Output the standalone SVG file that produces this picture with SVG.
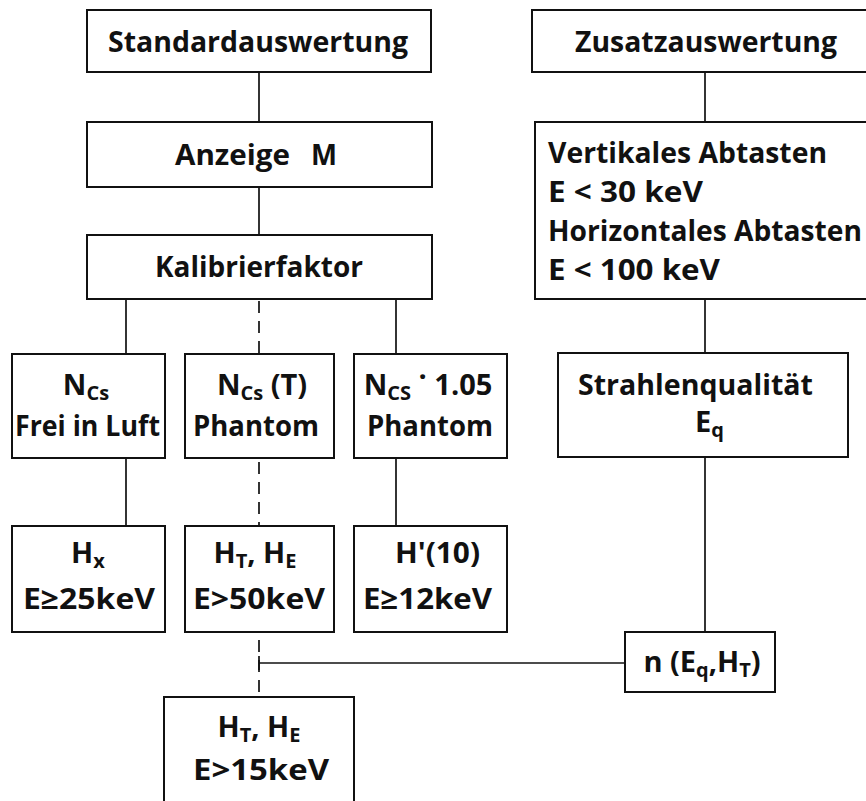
<svg xmlns="http://www.w3.org/2000/svg" width="866" height="801" viewBox="0 0 866 801">
<style>
.box{fill:#fff;stroke:#111;stroke-width:2}
.ln{stroke:#111;stroke-width:1.7;fill:none}
.dash{stroke-dasharray:12 8}
text{font-family:"Open Sans","Noto Sans","DejaVu Sans",sans-serif;font-weight:700;font-size:29px;fill:#111}
.c{text-anchor:middle}
.sub{font-size:20px}
</style>
<rect width="866" height="801" fill="#fff"/>
<g id="connectors">
<line class="ln" x1="259" y1="72" x2="259" y2="122"/>
<line class="ln" x1="259" y1="187" x2="259" y2="235"/>
<line class="ln" x1="126" y1="299" x2="126" y2="354"/>
<line class="ln dash" x1="259" y1="301" x2="259" y2="354"/>
<line class="ln" x1="396" y1="299" x2="396" y2="354"/>
<line class="ln" x1="126" y1="458" x2="126" y2="526"/>
<line class="ln dash" x1="259" y1="462" x2="259" y2="526"/>
<line class="ln" x1="396" y1="458" x2="396" y2="526"/>
<line class="ln dash" x1="259" y1="640" x2="259" y2="697"/>
<line class="ln" x1="259" y1="663" x2="625" y2="663"/>
<line class="ln" x1="259" y1="656" x2="259" y2="670"/>
<line class="ln" x1="705" y1="72" x2="705" y2="122"/>
<line class="ln" x1="705" y1="299" x2="705" y2="353"/>
<line class="ln" x1="705" y1="457" x2="705" y2="632"/>
</g>
<g id="standard">
<rect class="box" x="87" y="10" width="344" height="62"/>
<text x="108" y="52" textLength="300" lengthAdjust="spacingAndGlyphs">Standardauswertung</text>
</g>
<g id="zusatz">
<rect class="box" x="532" y="10" width="360" height="62"/>
<text x="575" y="52" textLength="262" lengthAdjust="spacingAndGlyphs">Zusatzauswertung</text>
</g>
<g id="anzeige">
<rect class="box" x="87" y="122" width="345" height="65"/>
<text x="175" y="165" textLength="115" lengthAdjust="spacingAndGlyphs">Anzeige</text>
<text x="311" y="165" textLength="26" lengthAdjust="spacingAndGlyphs">M</text>
</g>
<g id="kalibrier">
<rect class="box" x="87" y="235" width="345" height="64"/>
<text x="155" y="277" textLength="208" lengthAdjust="spacingAndGlyphs">Kalibrierfaktor</text>
</g>
<g id="abtasten">
<rect class="box" x="535" y="122" width="360" height="177"/>
<text x="548" y="163" textLength="279" lengthAdjust="spacingAndGlyphs">Vertikales Abtasten</text>
<text x="548" y="202" textLength="155" lengthAdjust="spacingAndGlyphs">E &lt; 30 keV</text>
<text x="548" y="241" textLength="314" lengthAdjust="spacingAndGlyphs">Horizontales Abtasten</text>
<text x="548" y="280" textLength="172" lengthAdjust="spacingAndGlyphs">E &lt; 100 keV</text>
</g>
<g id="ncs-luft">
<rect class="box" x="12" y="354" width="153" height="104"/>
<text class="c" x="86" y="395">N<tspan class="sub" dy="5">Cs</tspan></text>
<text x="15" y="436" textLength="145" lengthAdjust="spacingAndGlyphs">Frei in Luft</text>
</g>
<g id="ncs-t">
<rect class="box" x="185" y="354" width="149" height="104"/>
<text class="c" x="262" y="395">N<tspan class="sub" dy="5">Cs</tspan><tspan dy="-5"> (T)</tspan></text>
<text x="193" y="436" textLength="126" lengthAdjust="spacingAndGlyphs">Phantom</text>
</g>
<g id="ncs-105">
<rect class="box" x="354" y="354" width="153" height="104"/>
<text class="c" x="428" y="395">N<tspan class="sub" dy="5">CS</tspan><tspan dy="-13"> ·</tspan><tspan dy="8"> 1.05</tspan></text>
<text x="367" y="436" textLength="126" lengthAdjust="spacingAndGlyphs">Phantom</text>
</g>
<g id="strahlen">
<rect class="box" x="558" y="353" width="290" height="104"/>
<text x="578" y="395" textLength="235" lengthAdjust="spacingAndGlyphs">Strahlenqualität</text>
<text x="695" y="432">E<tspan class="sub" dy="5">q</tspan></text>
</g>
<g id="hx">
<rect class="box" x="12" y="526" width="153" height="106"/>
<text class="c" x="88" y="563">H<tspan class="sub" dy="5">x</tspan></text>
<text x="23" y="609" textLength="132" lengthAdjust="spacingAndGlyphs">E≥25keV</text>
</g>
<g id="hthe50">
<rect class="box" x="185" y="526" width="149" height="106"/>
<text class="c" x="255" y="563">H<tspan class="sub" dy="5">T</tspan><tspan dy="-5">, H</tspan><tspan class="sub" dy="5">E</tspan></text>
<text x="193" y="609" textLength="132" lengthAdjust="spacingAndGlyphs">E&gt;50keV</text>
</g>
<g id="h10">
<rect class="box" x="354" y="526" width="153" height="106"/>
<text x="395" y="563" textLength="85" lengthAdjust="spacingAndGlyphs">H'(10)</text>
<text x="363" y="609" textLength="129" lengthAdjust="spacingAndGlyphs">E≥12keV</text>
</g>
<g id="n-eq">
<rect class="box" x="625" y="632" width="150" height="60"/>
<text class="c" x="702" y="672">n (E<tspan class="sub" dy="5">q</tspan><tspan dy="-5">,H</tspan><tspan class="sub" dy="5">T</tspan><tspan dy="-5">)</tspan></text>
</g>
<g id="hthe15">
<rect class="box" x="164" y="697" width="190" height="120"/>
<text class="c" x="259" y="737">H<tspan class="sub" dy="5">T</tspan><tspan dy="-5">, H</tspan><tspan class="sub" dy="5">E</tspan></text>
<text x="193" y="780" textLength="136" lengthAdjust="spacingAndGlyphs">E&gt;15keV</text>
</g>
</svg>
